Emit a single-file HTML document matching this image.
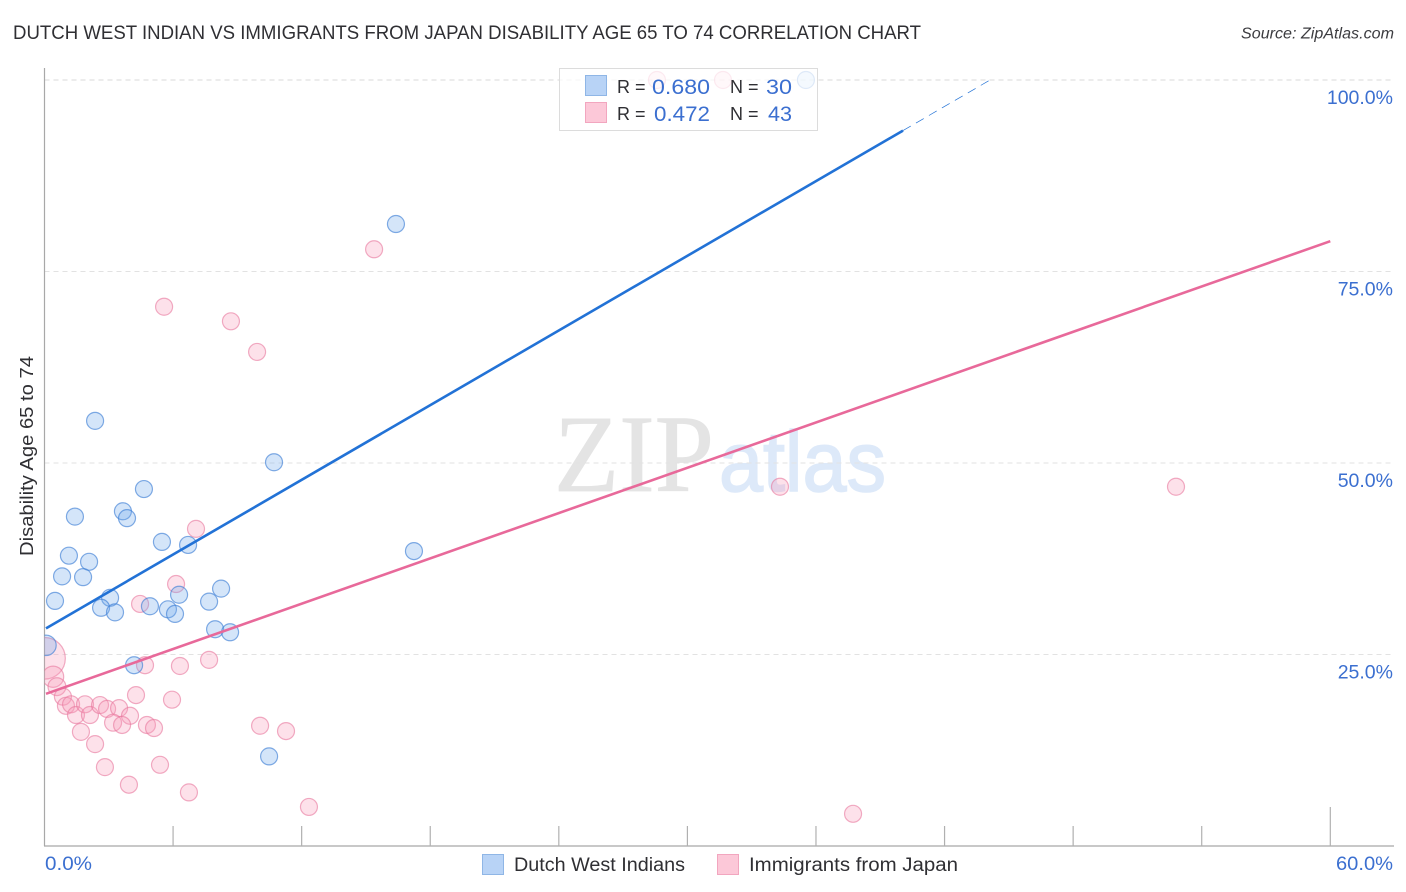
<!DOCTYPE html>
<html lang="en">
<head>
<meta charset="utf-8">
<title>Dutch West Indian vs Immigrants from Japan Disability Age 65 to 74 Correlation Chart</title>
<style>
html,body{margin:0;padding:0;background:#fff;}
body{width:1406px;height:892px;overflow:hidden;}
svg{display:block;font-family:"Liberation Sans",sans-serif;}
</style>
</head>
<body>
<svg id="chart" width="1406" height="892" viewBox="0 0 1406 892" xmlns="http://www.w3.org/2000/svg">
  <defs>
    <clipPath id="plot-clip"><rect x="44.5" y="60" width="1350" height="786"></rect></clipPath>
  </defs>
  <rect x="0" y="0" width="1406" height="892" fill="#ffffff"></rect>
  <text x="13" y="39" font-size="19.5" fill="#2f2f33" textLength="908" lengthAdjust="spacingAndGlyphs">DUTCH WEST INDIAN VS IMMIGRANTS FROM JAPAN DISABILITY AGE 65 TO 74 CORRELATION CHART</text>
  <text x="1394" y="38.5" font-size="15.5" font-style="italic" fill="#3c3c40" text-anchor="end" textLength="153" lengthAdjust="spacingAndGlyphs">Source: ZipAtlas.com</text>
  <g>
    <text x="554" y="491" font-family="'Liberation Serif',serif" font-size="110" fill="#e4e4e4" stroke="#e4e4e4" stroke-width="0.8" textLength="160" lengthAdjust="spacingAndGlyphs">ZIP</text>
    <text x="719" y="491" font-family="'Liberation Sans',sans-serif" font-size="85" fill="#dde9f9" stroke="#dde9f9" stroke-width="1.6" textLength="167" lengthAdjust="spacingAndGlyphs">atlas</text>
  </g>
  <g id="grid"></g>
  <g id="axes"></g>
  <g id="points" clip-path="url(#plot-clip)"></g>
  <g id="trends"></g>
  <g id="tick-labels"></g>
  <text transform="translate(33,456) rotate(-90)" font-size="18.5" fill="#2f2f33" text-anchor="middle" textLength="200" lengthAdjust="spacingAndGlyphs">Disability Age 65 to 74</text>

  <g>
    <rect x="559.5" y="68.5" width="258" height="62" fill="#ffffff" fill-opacity="0.75" stroke="#dcdcdc" stroke-width="1"></rect>
    <rect x="585.5" y="75.5" width="21" height="20" fill="#b8d3f6" stroke="#8fb6e6" stroke-width="1"></rect>
    <rect x="585.5" y="102.5" width="21" height="20" fill="#fcc8d8" stroke="#f2a6bf" stroke-width="1"></rect>
    <text x="617" y="93" font-size="18" fill="#2f2f33">R =</text>
    <text x="652" y="94" font-size="21.5" fill="#3b6fd0" textLength="58" lengthAdjust="spacingAndGlyphs">0.680</text>
    <text x="730" y="93" font-size="18" fill="#2f2f33">N =</text>
    <text x="766" y="94" font-size="21.5" fill="#3b6fd0" textLength="26" lengthAdjust="spacingAndGlyphs">30</text>
    <text x="617" y="120" font-size="18" fill="#2f2f33">R =</text>
    <text x="654" y="121" font-size="21.5" fill="#3b6fd0" textLength="56" lengthAdjust="spacingAndGlyphs">0.472</text>
    <text x="730" y="120" font-size="18" fill="#2f2f33">N =</text>
    <text x="768" y="121" font-size="21.5" fill="#3b6fd0" textLength="24" lengthAdjust="spacingAndGlyphs">43</text>
  </g>

  <g>
    <g>
      <rect x="482.5" y="854.5" width="21" height="20" fill="#b8d3f6" stroke="#8fb6e6" stroke-width="1"></rect>
      <text x="514" y="871" font-size="19" fill="#2f2f33" textLength="171" lengthAdjust="spacingAndGlyphs">Dutch West Indians</text>
    </g>
    <g>
      <rect x="717.5" y="854.5" width="21" height="20" fill="#fcc8d8" stroke="#f2a6bf" stroke-width="1"></rect>
      <text x="749" y="871" font-size="19" fill="#2f2f33" textLength="209" lengthAdjust="spacingAndGlyphs">Immigrants from Japan</text>
    </g>
  </g>
</svg>
<script>
var yTickValues = [25, 50, 75, 100];
var yTickLabels = ["25.0%", "50.0%", "75.0%", "100.0%"];
var xTickValues = [6, 12, 18, 24, 30, 36, 42, 48, 54, 60];
var xEndValues = [0, 60];
var xEndLabels = ["0.0%", "60.0%"];

var dutchX = [16.40,2.36,10.71,4.64,1.42,3.66,3.85,5.48,6.70,1.14,2.08,0.82,1.80,17.24,0.49,3.06,2.64,3.29,4.92,5.76,6.09,6.28,7.68,8.24,7.96,8.66,0.07,4.18,10.48,35.53];
var dutchY = [81.2,55.5,50.1,46.6,43.0,43.7,42.8,39.7,39.3,37.9,37.1,35.2,35.1,38.5,32.0,32.4,31.1,30.5,31.3,30.9,30.3,32.8,31.9,33.6,28.3,27.9,26.2,23.6,11.7,100];
var dutchWeights = [1,1,1,1,1,1,1,1,1,1,1,1,1,1,1,1,1,1,1,1,1,1,1,1,1,1,1.2,1,1,1];

var japanX = [15.38,5.58,8.70,9.92,28.58,31.66,7.07,6.14,4.46,4.69,6.32,7.68,0,0.40,0.58,0.86,1.0,1.24,1.47,1.89,2.12,2.59,2.92,3.48,3.99,3.20,3.62,4.27,4.78,5.11,5.95,1.70,2.36,2.82,3.94,5.39,6.74,10.06,11.27,12.34,37.73,34.32,52.80];
var japanY = [77.9,70.4,68.5,64.5,100,100,41.4,34.2,31.6,23.6,23.5,24.3,24.5,22.1,20.8,19.5,18.3,18.5,17.1,18.5,17.1,18.4,17.9,18.0,17.0,16.1,15.8,19.7,15.8,15.4,19.1,14.9,13.3,10.3,8.0,10.6,7.0,15.7,15.0,5.1,4.2,46.9,46.9];
var japanWeights = [1,1,1,1,1,1,1,1,1,1,1,1,2.45,1.25,1.05,1,1,1,1,1,1,1,1,1,1,1,1,1,1,1,1,1,1,1,1,1,1,1,1,1,1,1,1];

var dutchTrend = [28.3, 1.625];
var dutchTrendEnds = [0.07, 40.06, 44.13];
var japanTrend = [19.8, 0.986];
var japanTrendEnds = [0.07, 60];

var SVGNS = "http://www.w3.org/2000/svg";
function xScale(v) { return 44.5 + v * 21.43; }
function yScale(v) { return 846 - v * 7.66; }
function rScale(w) { return 8.5 * w; }
function make(tag, parent, attrs) {
  var el = document.createElementNS(SVGNS, tag);
  for (var k in attrs) { el.setAttribute(k, attrs[k]); }
  parent.appendChild(el);
  return el;
}

var gridG = document.getElementById("grid");
var axesG = document.getElementById("axes");
var labelsG = document.getElementById("tick-labels");
var pointsG = document.getElementById("points");
var trendsG = document.getElementById("trends");

yTickValues.forEach(function (v, i) {
  var gl = make("line", gridG, {x1: 44.5, x2: 1394, y1: yScale(v), y2: yScale(v), stroke: v === 100 ? "#d8d8d8" : "#e2e2e2", "stroke-width": 1, "stroke-dasharray": "5 4"});
  
  
  var t = make("text", labelsG, {x: 1393, y: yScale(v) + 24, "font-size": 19.5, fill: "#3b6fd0", "text-anchor": "end"});
  
  
  t.textContent = yTickLabels[i];
});

var yAxis = make("line", axesG, {x1: 44.5, x2: 44.5, y1: 68, y2: 846, stroke: "#a8a8a8", "stroke-width": 1.2});


var xAxis = make("line", axesG, {x1: 44, x2: 1394, y1: 846, y2: 846, stroke: "#a8a8a8", "stroke-width": 1.2});


xTickValues.forEach(function (v, i) {
  var top = i === xTickValues.length - 1 ? 807 : 826;
  var tk = make("line", axesG, {x1: xScale(v), x2: xScale(v), y1: top, y2: 846, stroke: "#b0b0b0", "stroke-width": 1.2});
  
  
});
xEndValues.forEach(function (v, i) {
  var t = make("text", labelsG, {x: i === 0 ? xScale(v) + 0.5 : 1336, y: 870, "font-size": 19.5, fill: "#3b6fd0", textLength: i === 0 ? 47 : 57, lengthAdjust: "spacingAndGlyphs"});
  
  
  t.textContent = xEndLabels[i];
});

japanX.forEach(function (v, i) {
  var c = make("circle", pointsG, {cx: xScale(v), cy: yScale(japanY[i]), r: rScale(japanWeights[i]), fill: "#f79ab8", "fill-opacity": 0.3, stroke: "#e8769c", "stroke-opacity": 0.6, "stroke-width": 1.2});
  
  
});
dutchX.forEach(function (v, i) {
  var c = make("circle", pointsG, {cx: xScale(v), cy: yScale(dutchY[i]), r: rScale(dutchWeights[i]), fill: "#70a8ea", "fill-opacity": 0.3, stroke: "#3f80d6", "stroke-opacity": 0.65, "stroke-width": 1.2});
  
  
});

function trendY(trend, x) { return yScale(trend[0] + trend[1] * x); }

var dutchSolid = make("line", trendsG, {x1: xScale(dutchTrendEnds[0]), y1: trendY(dutchTrend, dutchTrendEnds[0]), x2: xScale(dutchTrendEnds[1]), y2: trendY(dutchTrend, dutchTrendEnds[1]), stroke: "#2272d6", "stroke-width": 2.6});


var dutchDash = make("line", trendsG, {x1: xScale(dutchTrendEnds[1]), y1: trendY(dutchTrend, dutchTrendEnds[1]), x2: xScale(dutchTrendEnds[2]), y2: trendY(dutchTrend, dutchTrendEnds[2]), stroke: "#2272d6", "stroke-width": 0.7, "stroke-dasharray": "9 6"});


var japanSolid = make("line", trendsG, {x1: xScale(japanTrendEnds[0]), y1: trendY(japanTrend, japanTrendEnds[0]), x2: xScale(japanTrendEnds[1]), y2: trendY(japanTrend, japanTrendEnds[1]), stroke: "#e8699a", "stroke-width": 2.6});


</script>
</body>
</html>
